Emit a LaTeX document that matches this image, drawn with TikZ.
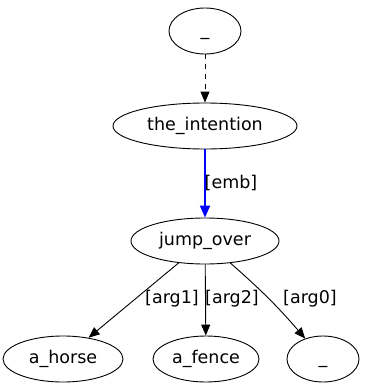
\documentclass[tikz,border=0pt]{standalone}
\usepackage{fontspec}
\setmainfont{DejaVu Sans}
\usetikzlibrary{arrows.meta,shapes.geometric}
\begin{document}
\begin{tikzpicture}[x=1pt,y=-1pt,
  every node/.style={font=\fontsize{17.5}{20}\selectfont},
  gnode/.style={draw,ellipse,line width=0.9pt,inner sep=0pt,text height=12.5pt,text depth=4.5pt},
  arr/.style={line width=0.9pt,-{Triangle[length=11pt,width=9pt]}},
  elabel/.style={inner sep=0pt}]
\useasboundingbox (0,0) rectangle (366,388);
% nodes
\node[gnode,minimum width=72pt,minimum height=46pt] (top) at (205,31) {\_};
\node[gnode,minimum width=184pt,minimum height=46pt] (int) at (205,126) {the\_intention};
\node[gnode,minimum width=148pt,minimum height=46pt] (jump) at (205,241) {jump\_over};
\node[gnode,minimum width=120pt,minimum height=46pt] (horse) at (63,359) {a\_horse};
\node[gnode,minimum width=106pt,minimum height=46pt] (fence) at (206,359) {a\_fence};
\node[gnode,minimum width=72pt,minimum height=46pt] (agent) at (323,359) {\_};
% edges
\draw[arr,dash pattern=on 5pt off 5pt] (top) -- (int);
\draw[arr,line width=2pt,blue,-{Triangle[length=12pt,width=10pt]}] (int) -- (jump);
\draw[arr] (jump) -- (horse);
\draw[arr] (jump) -- (fence);
\draw[arr] (jump) to[bend left=4] (agent);
% edge labels
\node[elabel] (lemb) at (231,183) {[emb]};
\node[elabel] (larg1) at (172,299) {[arg1]};
\node[elabel] (larg2) at (232,299) {[arg2]};
\node[elabel] (larg0) at (310,299) {[arg0]};
\end{tikzpicture}
\end{document}
